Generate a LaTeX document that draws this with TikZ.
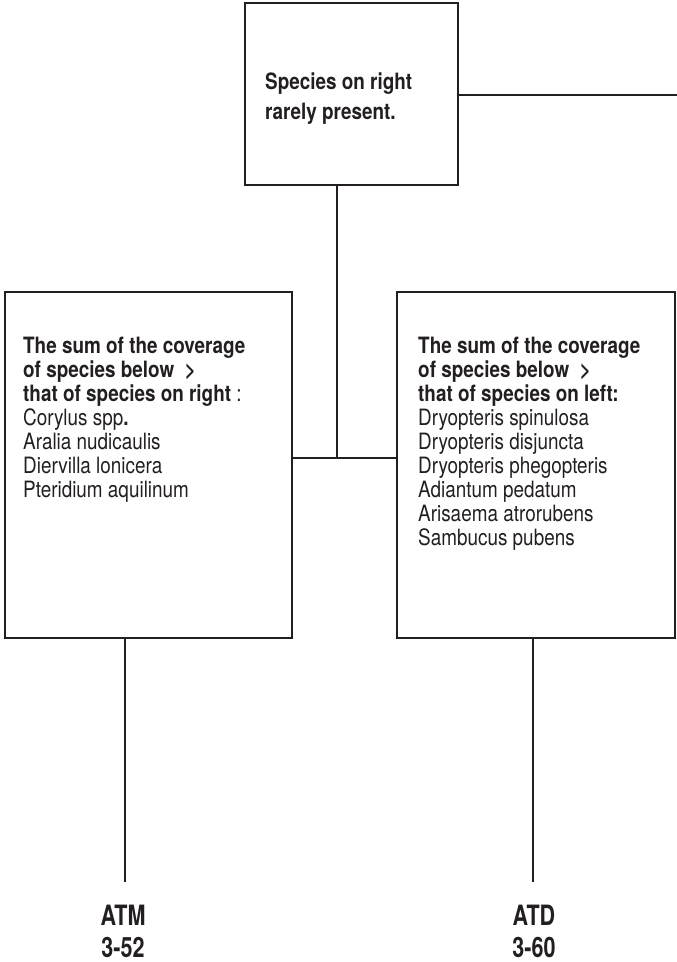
\documentclass[tikz,border=0pt]{standalone}
\usepackage{fontspec}
\setmainfont{TeX Gyre Heros}
\newfontfamily\bodyfont[FakeStretch=0.84]{TeX Gyre Heros}
\newfontfamily\labelfont[FakeStretch=0.77]{TeX Gyre Heros}
\definecolor{ink}{HTML}{231F20}
\begin{document}
\begin{tikzpicture}[x=1pt,y=-1pt,
  box/.style={draw=ink, line width=1.7pt, inner sep=0pt, fill=none},
  link/.style={draw=ink, line width=1.7pt},
  txt/.style={anchor=base west, inner sep=0pt, text=ink},
  lab/.style={anchor=base, inner sep=0pt, text=ink, font=\labelfont\bfseries\fontsize{28}{34}\selectfont}]
\useasboundingbox (0,0) rectangle (677,962);

% boxes
\node[box, minimum width=213pt, minimum height=182pt] (top) at (351.5,94) {};
\node[box, minimum width=287pt, minimum height=346pt] (left) at (148.5,465) {};
\node[box, minimum width=278pt, minimum height=346pt] (right) at (536,465) {};

% box texts
\node[txt] (toptext) at (265,89) {\bodyfont\bfseries\fontsize{22.5}{30}\selectfont
  \begin{tabular}[t]{@{}l@{}}Species on right\\ rarely present.\end{tabular}};
\node[txt] (lefttext) at (23,353) {\bodyfont\fontsize{22.5}{24}\selectfont
  \begin{tabular}[t]{@{}l@{}}
  \textbf{The sum of the coverage}\\
  \textbf{of species below\ \ >}\\
  \textbf{that of species on right} :\\
  Corylus spp\textbf{.}\\
  Aralia nudicaulis\\
  Diervilla lonicera\\
  Pteridium aquilinum
  \end{tabular}};
\node[txt] (righttext) at (418,353) {\bodyfont\fontsize{22.5}{24}\selectfont
  \begin{tabular}[t]{@{}l@{}}
  \textbf{The sum of the coverage}\\
  \textbf{of species below\ \ >}\\
  \textbf{that of species on left:}\\
  Dryopteris spinulosa\\
  Dryopteris disjuncta\\
  Dryopteris phegopteris\\
  Adiantum pedatum\\
  Arisaema atrorubens\\
  Sambucus pubens
  \end{tabular}};

% end labels
\node[lab] (atm) at (123,925) {ATM};
\node[lab] (atmnum) at (123,957) {3-52};
\node[lab] (atd) at (534,925) {ATD};
\node[lab] (atdnum) at (534,957) {3-60};

% junctions and free ends
\coordinate (junc) at (337,458);
\coordinate (exitR) at (677,95);
\coordinate (legL) at (125,882);
\coordinate (legR) at (533,882);

% connectors
\draw[link] (top.east |- exitR) -- (exitR);
\draw[link] (top.south -| junc) -- (junc);
\draw[link] (left.east |- junc) -- (right.west |- junc);
\draw[link] (left.south -| legL) -- (legL);
\draw[link] (right.south -| legR) -- (legR);
\end{tikzpicture}
\end{document}
